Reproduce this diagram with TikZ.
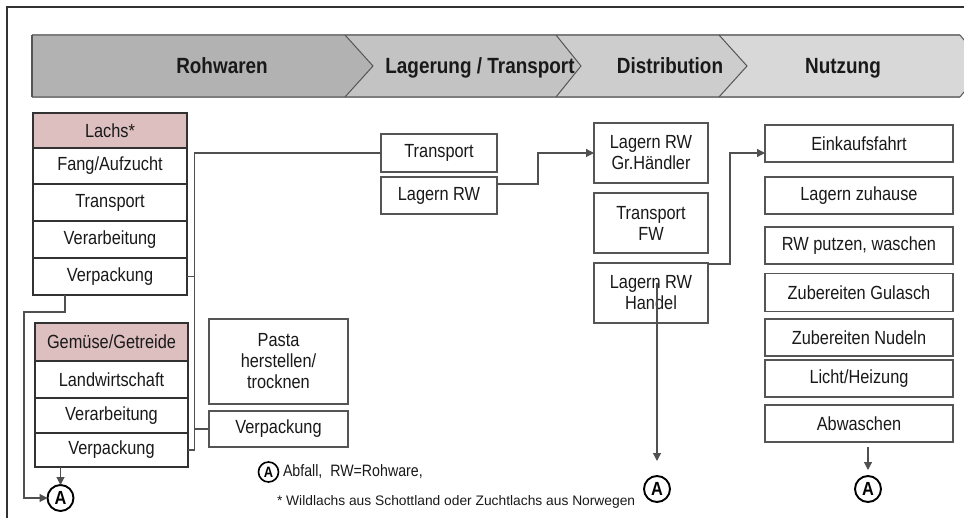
\documentclass[tikz,border=0pt]{standalone}
\usepackage{fontspec}
\setmainfont{Liberation Sans}[FakeStretch=0.86]
\newfontfamily\legendfont{Liberation Sans}
\usetikzlibrary{arrows.meta,calc}
\definecolor{pinkfill}{RGB}{221,191,192}
\definecolor{segA}{RGB}{178,178,178}
\definecolor{segB}{RGB}{195,195,195}
\definecolor{segC}{RGB}{205,205,205}
\definecolor{segD}{RGB}{216,216,216}
\definecolor{bandline}{RGB}{125,125,125}
\definecolor{boxdark}{RGB}{50,50,50}
\definecolor{boxgray}{RGB}{85,85,85}
\definecolor{connc}{RGB}{80,80,80}
\definecolor{txt}{RGB}{25,25,25}
\begin{document}
\begin{tikzpicture}[x=1pt,y=-1pt,
  every node/.style={inner sep=0pt,outer sep=0pt,text=txt},
  boxfont/.style={font=\fontsize{19}{21}\selectfont},
  lbox/.style={boxfont,draw=boxdark,line width=1.8pt,fill=white,align=center,minimum width=154pt},
  pbox/.style={lbox,fill=pinkfill},
  gbox/.style={boxfont,draw=boxgray,line width=1.3pt,fill=white,align=center},
  hdr/.style={font=\fontsize{22}{24}\selectfont\bfseries,anchor=base},
  acirc/.style={circle,draw=black,line width=1.9pt,minimum size=26pt,font=\fontsize{19}{19}\selectfont\bfseries,text=black},
  conn/.style={draw=connc,line width=1.2pt},
  arr/.style={-{Triangle[length=8pt,width=8pt]}}
]
\useasboundingbox (0,0) rectangle (964,518);
% frame
\draw[boxdark,line width=1.4pt] (7,518) -- (7,7) -- (964,7);
% header band
\fill[segA] (32,35) -- (345,35) -- (373,66) -- (345,97) -- (32,97) -- cycle;
\fill[segB] (345,35) -- (556,35) -- (581,66) -- (556,97) -- (345,97) -- (373,66) -- cycle;
\fill[segC] (556,35) -- (719,35) -- (747,66) -- (719,97) -- (556,97) -- (581,66) -- cycle;
\fill[segD] (719,35) -- (960,35) -- (985,66) -- (960,97) -- (719,97) -- (747,66) -- cycle;
\draw[bandline,line width=2.6pt] (32,35) -- (960,35) (32,97) -- (960,97);
\draw[boxgray,line width=1.6pt] (32,35) -- (32,97);
\draw[boxgray,line width=1pt] (345,35) -- (373,66) -- (345,97)
  (556,35) -- (581,66) -- (556,97) (719,35) -- (747,66) -- (719,97)
  (960,35) -- (985,66) -- (960,97);
\node[hdr] (h1) at (222,74) {Rohwaren};
\node[hdr] (h2) at (480,74) {Lagerung / Transport};
\node[hdr] (h3) at (670,74) {Distribution};
\node[hdr] (h4) at (843,74) {Nutzung};
% Lachs column
\node[pbox,minimum height=35pt] (l0) at (110,130.5) {Lachs*};
\node[lbox,minimum height=36pt] (l1) at (110,166) {Fang/Aufzucht};
\node[lbox,minimum height=37pt] (l2) at (110,202.5) {Transport};
\node[lbox,minimum height=37pt] (l3) at (110,239.5) {Verarbeitung};
\node[lbox,minimum height=37pt] (lv) at (110,276.5) {Verpackung};
% Gemuese column
\node[pbox,minimum width=153pt,minimum height=38pt] (g0) at (111.5,342) {Gemüse/Getreide};
\node[lbox,minimum width=153pt,minimum height=37pt] (g1) at (111.5,379.5) {Landwirtschaft};
\node[lbox,minimum width=153pt,minimum height=35pt] (g2) at (111.5,415.5) {Verarbeitung};
\node[lbox,minimum width=153pt,minimum height=34pt] (gv) at (111.5,450) {Verpackung};
% Pasta
\node[gbox,minimum width=139pt,minimum height=85pt] (pa) at (278.5,361.5) {Pasta\\herstellen/\\trocknen};
\node[gbox,minimum width=139pt,minimum height=36pt] (pv) at (278.5,429) {Verpackung};
% Lagerung
\node[gbox,minimum width=116pt,minimum height=38pt] (tr) at (439,153) {Transport};
\node[gbox,minimum width=116pt,minimum height=37pt] (lrw) at (439,195.5) {Lagern RW};
% Distribution
\node[gbox,minimum width=114pt,minimum height=60pt] (gh) at (651,153) {Lagern RW\\Gr.Händler};
\node[gbox,minimum width=114pt,minimum height=60pt] (tf) at (651,223) {Transport\\FW};
\node[gbox,minimum width=114pt,minimum height=60pt] (hd) at (651,293) {Lagern RW\\Handel};
% Nutzung
\node[gbox,minimum width=188pt,minimum height=37pt] (ek) at (859,143.5) {Einkaufsfahrt};
\node[gbox,minimum width=188pt,minimum height=37pt] (lz) at (859,195.5) {Lagern zuhause};
\node[gbox,minimum width=188pt,minimum height=37pt] (rp) at (859,245.5) {RW putzen, waschen};
\node[gbox,minimum width=188pt,minimum height=38pt] (zg) at (859,292.5) {Zubereiten Gulasch};
\node[gbox,minimum width=188pt,minimum height=37pt] (zn) at (859,337.5) {Zubereiten Nudeln};
\node[gbox,minimum width=188pt,minimum height=37pt] (lh) at (859,378.5) {Licht/Heizung};
\node[gbox,minimum width=188pt,minimum height=37pt] (ab) at (859,423.5) {Abwaschen};
% waste circles
\node[acirc] (a1) at (60.5,498) {A};
\node[acirc] (am) at (657,489) {A};
\node[acirc] (ar) at (868,489) {A};
% legend
\node[acirc,minimum size=20pt,line width=1.6pt,font=\fontsize{15}{15}\selectfont\bfseries] (al) at (268.5,472) {A};
\node[anchor=west,font=\fontsize{16.5}{18}\selectfont] (leg1) at (283,472) {Abfall,\ \ RW=Rohware,};
\node[anchor=west,font=\legendfont\fontsize{13.8}{16}\selectfont] (leg2) at (277,502) {* Wildlachs aus Schottland oder Zuchtlachs aus Norwegen};
% connectors
\coordinate (bt) at (194.5,153);
\draw[conn] (tr.west) -- (tr.west -| bt) -- (gv.east -| bt) -- (gv.east);
\draw[conn] (lv.east) -- (lv.east -| bt);
\draw[conn] (pv.west) -- (pv.west -| bt);
\draw[conn,arr] ([yshift=11.5pt]lrw.east) -- ++(41,0) |- (gh.west);
\draw[conn,arr] ([yshift=-1pt]hd.north east) -- ++(22,0) |- ([yshift=-9.5pt]ek.west);
\coordinate (hin) at (657,283);
\draw[conn,arr,shorten >=15pt] (hin) -- (am.north);
\draw[conn,arr,shorten <=5pt,shorten >=6pt] (ar.north |- ab.south) -- (ar.north);
\draw[conn,arr] (gv.south -| a1.north) -- (a1.north);
\draw[conn,arr] ([xshift=-45pt]lv.south) -- ++(0,17) -- ++(-41,0) |- (a1.west);
\end{tikzpicture}
\end{document}
